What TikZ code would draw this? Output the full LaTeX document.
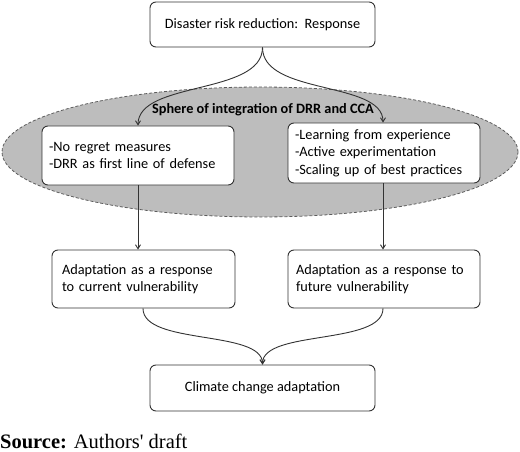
\documentclass[tikz,border=0pt]{standalone}
\usepackage{fontspec}
\setmainfont{Carlito}
\newfontfamily\timesfont{Liberation Serif}
\usetikzlibrary{arrows.meta,shapes.geometric}
\definecolor{sphere}{HTML}{BDBDBD}
\definecolor{edge}{HTML}{333333}
\begin{document}
\begin{tikzpicture}[x=1pt,y=-1pt,
  box/.style={draw=edge,line width=0.9pt,fill=white,rounded corners=6pt,font=\fontsize{14.3}{17.5}\selectfont,inner sep=0pt},
  conn/.style={draw=edge,line width=0.9pt,-{Straight Barb[length=4pt,width=5pt]}}]
\useasboundingbox (0,0) rectangle (520,452);
\node[draw=edge!80,densely dashed,line width=0.8pt,fill=sphere,ellipse,minimum width=516pt,minimum height=130pt,inner sep=0pt] (S) at (260,152) {};
\node[box,minimum width=225pt,minimum height=45pt] (T) at (262.5,24.5) {Disaster risk reduction:\ \ Response};
\node[font=\bfseries\fontsize{14.3}{17}\selectfont,inner sep=1pt] (SL) at (263,110) {Sphere of integration of DRR and CCA};
\node[box,minimum width=192pt,minimum height=59pt,text width=178pt,align=left] (L1) at (138,155.5) {-No regret measures\\-DRR as first line of defense};
\node[box,minimum width=192pt,minimum height=60pt,text width=178pt,align=left] (R1) at (384,153) {-Learning from experience\\-Active experimentation\\-Scaling up of best practices};
\node[box,minimum width=183pt,minimum height=58pt,text width=163pt,align=left] (L2) at (143.5,279) {Adaptation as a response\\to current vulnerability};
\node[box,minimum width=192pt,minimum height=58pt,text width=176pt,align=left] (R2) at (384,279) {Adaptation as a response to\\future vulnerability};
\node[box,minimum width=225pt,minimum height=46pt] (B) at (262.5,388) {Climate change adaptation};
\node[anchor=base west,inner sep=0pt,font=\timesfont\fontsize{20.5}{24}\selectfont] (src) at (0,448) {\textbf{Source:} Authors' draft};
\draw[conn] (T.south) .. controls +(0,48) and +(0,-45) .. (L1.north);
\draw[conn] (T.south) .. controls +(0,48) and +(0,-42) .. ([xshift=-1pt]R1.north);
\draw[conn] (L1.south) -- (L1.south |- L2.north);
\draw[conn] ([xshift=-1pt]R1.south) -- ([xshift=-1pt]R1.south |- R2.north);
\draw[conn] ([xshift=-0.5pt]L2.south) .. controls +(0,37) and +(0,-35) .. (B.north);
\draw[conn] ([xshift=-1pt]R2.south) .. controls +(0,37) and +(0,-35) .. (B.north);
\end{tikzpicture}
\end{document}
